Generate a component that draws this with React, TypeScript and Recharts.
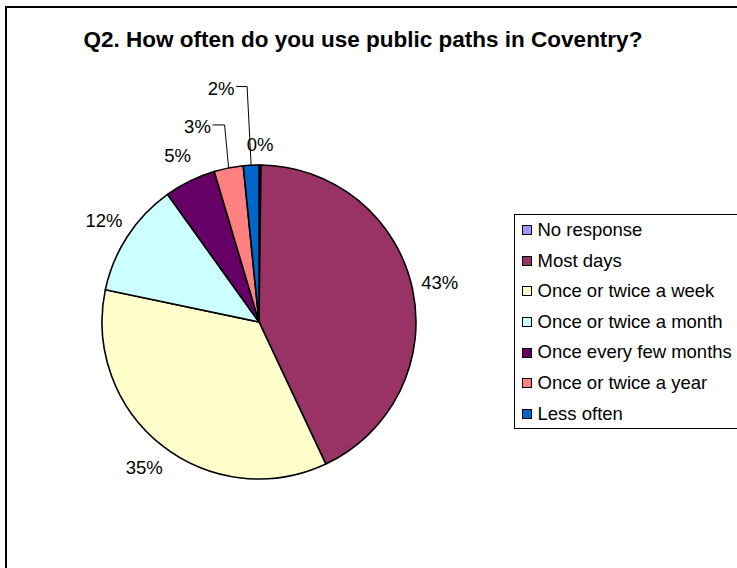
import { PieChart, Pie, Cell, Legend } from "recharts";

const categories = [
  "No response",
  "Most days",
  "Once or twice a week",
  "Once or twice a month",
  "Once every few months",
  "Once or twice a year",
  "Less often",
];
// percentage of respondents
const shares = [0.2, 42.8, 35.3, 11.8, 5.3, 3.0, 1.6];
const sliceColors = ["#9999FF", "#993366", "#FFFFCC", "#CCFFFF", "#660066", "#FF8080", "#0066CC"];

const data = categories.map((name, i) => ({ name, value: shares[i] }));

const FONT = '"Liberation Sans", Arial, sans-serif';
const RAD = Math.PI / 180;

// thin slices: label pushed further out (and turned a bit), with a leader line
const labelNudge: Record<number, { r: number; da: number; leader: boolean }> = {
  0: { r: 178, da: 0, leader: false },
  5: { r: 205, da: 6.3, leader: true },
  6: { r: 237, da: 6.3, leader: true },
};

function renderLabel(props: any) {
  const { cx, cy, midAngle, outerRadius, value, index } = props;
  const nudge = labelNudge[index];
  const r = nudge ? nudge.r : outerRadius + 28;
  const a = (midAngle + (nudge ? nudge.da : 0)) * RAD;
  const x = cx + r * Math.cos(a);
  const y = cy - r * Math.sin(a);

  let leader = null;
  if (nudge && nudge.leader) {
    const ex = cx + outerRadius * Math.cos(midAngle * RAD);
    const ey = cy - outerRadius * Math.sin(midAngle * RAD);
    leader = (
      <polyline
        points={`${x + 15},${y - 1.5} ${ex - 4},${y - 1.5} ${ex},${ey}`}
        fill="none"
        stroke="#000"
        strokeWidth={1}
      />
    );
  }

  return (
    <g key={`lbl-${index}`}>
      {leader}
      <text
        x={x}
        y={y}
        textAnchor="middle"
        dominantBaseline="central"
        fontFamily={FONT}
        fontSize={18.5}
        fill="#000"
      >
        {`${Math.round(value)}%`}
      </text>
    </g>
  );
}

function LegendBox() {
  return (
    <div
      style={{
        boxSizing: "border-box",
        width: 240,
        height: 215,
        border: "1px solid #000",
        background: "#fff",
        fontFamily: FONT,
        fontSize: 18.5,
        color: "#000",
      }}
    >
      {categories.map((c, i) => (
        <div
          key={c}
          style={{ display: "flex", alignItems: "center", height: 30.6, paddingLeft: 6.5 }}
        >
          <span
            style={{
              display: "inline-block",
              boxSizing: "border-box",
              width: 10,
              height: 10,
              border: "1px solid #000",
              background: sliceColors[i],
              marginRight: 6,
              flex: "none",
            }}
          />
          <span style={{ whiteSpace: "nowrap", lineHeight: 1 }}>{c}</span>
        </div>
      ))}
    </div>
  );
}

export default function App() {
  return (
    <div
      style={{
        position: "fixed",
        left: 0,
        top: 0,
        width: 737,
        height: 568,
        overflow: "hidden",
        background: "#fff",
      }}
    >
      <svg width={737} height={568} style={{ position: "absolute", left: 0, top: 0 }}>
        <path d="M6 568 L6 7 L737 7" fill="none" stroke="#000" strokeWidth={2} />
        <text
          x={363}
          y={47}
          textAnchor="middle"
          fontFamily={FONT}
          fontWeight="bold"
          fontSize={22.5}
          fill="#000"
        >
          Q2. How often do you use public paths in Coventry?
        </text>
      </svg>
      <div style={{ position: "absolute", left: 0, top: 0 }}>
        <PieChart width={737} height={568} margin={{ top: 0, right: 0, bottom: 0, left: 0 }}>
          <Pie
            data={data}
            dataKey="value"
            nameKey="name"
            cx={259}
            cy={322}
            outerRadius={157}
            startAngle={90}
            endAngle={-270}
            stroke="#000"
            strokeWidth={1.6}
            label={renderLabel}
            labelLine={false}
            isAnimationActive={false}
          >
            {data.map((d, i) => (
              <Cell key={d.name} fill={sliceColors[i]} />
            ))}
          </Pie>
          <Legend
            layout="vertical"
            align="right"
            verticalAlign="middle"
            content={() => <LegendBox />}
            wrapperStyle={{ left: 514, top: 214, right: "auto", width: 240, height: 215 }}
          />
        </PieChart>
      </div>
    </div>
  );
}
